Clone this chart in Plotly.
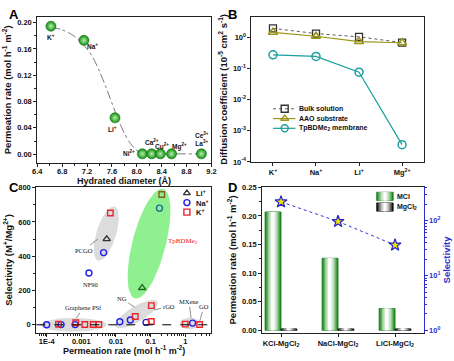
import math
import plotly.graph_objects as go

W, H = 454, 361

# ---------------- Panel A data ----------------
ions_a = ["K<sup>+</sup>", "Na<sup>+</sup>", "Li<sup>+</sup>", "Ni<sup>2+</sup>", "Ca<sup>2+</sup>",
          "Cu<sup>2+</sup>", "Mg<sup>2+</sup>", "Ce<sup>3+</sup><br>La<sup>3+</sup>"]
diam_a = [6.62, 7.15, 7.65, 8.09, 8.24, 8.38, 8.56, 9.04]
perm_a = [0.1945, 0.173, 0.0553, 0.0005, 0.0005, 0.0005, 0.0005, 0.0005]
fit_x = [6.62, 6.8, 7.0, 7.2, 7.3, 7.4, 7.5, 7.6, 7.7, 7.8, 7.9, 8.0, 8.09, 8.56, 9.04]
fit_y = [0.193, 0.189, 0.179, 0.160, 0.146, 0.126, 0.103, 0.078, 0.053, 0.032, 0.016, 0.006, 0.001, 0.0005, 0.0005]
lab_shift_a = [(0, -11), (9, -6), (-2, -11), (-13, 1), (0, 12), (2, 8), (8, 7), (1, 15)]

# ---------------- Panel B data ----------------
ions_b = ["K<sup>+</sup>", "Na<sup>+</sup>", "Li<sup>+</sup>", "Mg<sup>2+</sup>"]
bulk_b = [1.97, 1.34, 1.05, 0.69]
aao_b = [1.47, 1.10, 0.74, 0.68]
tp_b = [0.278, 0.246, 0.077, 0.00036]

# ---------------- Panel C data ----------------
li_x = [0.0054, 0.057]
li_y = [500, 215]
li_col = ["#333333", "#1d6b1d"]
na_x = [1e-4, 2.6e-4, 6.6e-4, 0.0044, 0.00166, 0.0129, 0.026, 0.074, 1.63, 0.18]
na_y = [0, 1, 1, 421, 302, 18, 28, 14, 10, 680]
na_col = ["#2222ee"] * 9 + ["#1f6f9a"]
k_x = [2.2e-4, 6.9e-4, 0.00126, 0.0022, 0.0032, 0.0069, 0.036, 0.105, 0.105, 1.0, 2.6, 0.21]
k_y = [3, 12, 2, 2, 2, 652, 48, 112, 19, 4, 2, 760]
k_col = ["#e8262b"] * 11 + ["#8a5a1e"]

# ---------------- Panel D data ----------------
pairs_d = ["KCl-MgCl<sub>2</sub>", "NaCl-MgCl<sub>2</sub>", "LiCl-MgCl<sub>2</sub>"]
mcl_d = [0.207, 0.126, 0.038]
mgcl2_d = [0.0025, 0.0025, 0.0025]
sel_d = [221, 97, 36]

FONT = "Arial, Liberation Sans, sans-serif"
SERIF = "Times New Roman, Liberation Serif, serif"


def dx(a, b):
    return [a / W, b / W]


def dy(t, b):
    return [1 - b / H, 1 - t / H]


fig = go.Figure()

# ---------- A ----------
fig.add_trace(go.Scatter(x=fit_x, y=fit_y, mode="lines", line=dict(color="#555", width=0.8, dash="dashdot", shape="spline", smoothing=0.8),
                         xaxis="x", yaxis="y", hoverinfo="skip"))
fig.add_trace(go.Scatter(x=diam_a, y=perm_a, mode="markers", xaxis="x", yaxis="y",
                         marker=dict(size=10, color="#12900f", line=dict(color="#0c6a0c", width=0.6),
                                     gradient=dict(type="radial", color="#b8f0b0"))))

# ---------- B ----------
fig.add_trace(go.Scatter(x=[0, 1, 2, 3], y=bulk_b, mode="lines+markers", xaxis="x2", yaxis="y2",
                         line=dict(color="#333", width=0.8, dash="dot"),
                         marker=dict(symbol="square-open", size=7, color="#333", line=dict(width=1.3))))
fig.add_trace(go.Scatter(x=[0, 1, 2, 3], y=aao_b, mode="lines+markers", xaxis="x2", yaxis="y2",
                         line=dict(color="#9a9417", width=1.2),
                         marker=dict(symbol="triangle-up-open", size=8, color="#9a9417", line=dict(width=1.5))))
fig.add_trace(go.Scatter(x=[0, 1, 2, 3], y=tp_b, mode="lines+markers", xaxis="x2", yaxis="y2",
                         line=dict(color="#1a9e9e", width=1.2),
                         marker=dict(symbol="circle-open", size=8, color="#1a9e9e", line=dict(width=1.5))))

# ---------- C ----------
CXR = [-4.30, 0.754]
CYR = [-45.5, 801.6]
CXPX = 179.0
CYPX = 149.0


def ellipse(clog, cy, a, b, ang, color):
    sx = CXPX / (CXR[1] - CXR[0])
    sy = CYPX / (CYR[1] - CYR[0])
    t = math.radians(ang)
    xs, ys = [], []
    for i in range(73):
        th = 2 * math.pi * i / 72
        u = a * math.cos(th)
        v = b * math.sin(th)
        px = u * math.cos(t) - v * math.sin(t)
        py = u * math.sin(t) + v * math.cos(t)
        xs.append(10 ** (clog + px / sx))
        ys.append(cy + py / sy)
    fig.add_trace(go.Scatter(x=xs, y=ys, mode="lines", fill="toself", fillcolor=color, line=dict(width=0),
                             xaxis="x3", yaxis="y3", hoverinfo="skip"))


ellipse(-3.23, 0, 34, 7, 0, "#dcdcdc")
ellipse(-2.28, 532, 29, 10, 73, "#dcdcdc")
ellipse(-1.045, 473, 58, 17, 75.6, "#8ff08f")
ellipse(-1.407, 62, 25, 8, 31, "#dcdcdc")
ellipse(0.133, 8, 10, 6, 0, "#dcdcdc")

fig.add_trace(go.Scatter(x=li_x, y=li_y, mode="markers", xaxis="x3", yaxis="y3",
                         marker=dict(symbol="triangle-up-open", size=6.5, color=li_col, line=dict(width=1.4))))
fig.add_trace(go.Scatter(x=na_x, y=na_y, mode="markers", xaxis="x3", yaxis="y3",
                         marker=dict(symbol="circle-open", size=6, color=na_col, line=dict(width=1.4))))
fig.add_trace(go.Scatter(x=k_x, y=k_y, mode="markers", xaxis="x3", yaxis="y3",
                         marker=dict(symbol="square-open", size=5.5, color=k_col, line=dict(width=1.4))))

# ---------- D ----------
BW = 0.28
layers = [(1.0, 0.0), (0.82, 0.3), (0.64, 0.55), (0.46, 0.75), (0.28, 0.9), (0.12, 1.0)]


def mix(c, t):
    return "rgb(%d,%d,%d)" % tuple(int(round(ci + (255 - ci) * t)) for ci in c)


for vals, base_off, col, edge in [(mcl_d, -BW, (30, 140, 30), "#1f7a1f"), (mgcl2_d, 0.0, (20, 20, 20), "#111")]:
    for k, (wf, t) in enumerate(layers):
        w = BW * wf
        fig.add_trace(go.Bar(x=[0, 1, 2], y=vals, xaxis="x4", yaxis="y4", width=w,
                             offset=base_off + (BW - w) / 2, marker=dict(color=mix(col, t),
                             line=dict(color=edge if k == 0 else mix(col, t), width=0.8 if k == 0 else 0)),
                             hoverinfo="skip"))

fig.add_trace(go.Scatter(x=[0, 1, 2], y=sel_d, mode="lines+markers", xaxis="x4", yaxis="y5",
                         line=dict(color="#3333dd", width=1, dash="dot"),
                         marker=dict(symbol="star", size=9, color="#f2e600", line=dict(color="#2222cc", width=1.2))))

# ---------- legend samples (overlay pixel axis) ----------
leg_b = [("Bulk solution", "#333", "dot", "square-open", 0.8),
         ("AAO substrate", "#9a9417", "solid", "triangle-up-open", 1.2),
         ("TpBDMe<sub>2</sub> membrane", "#1a9e9e", "solid", "circle-open", 1.2)]
annos = []
for i, (name, c, dash, sym, lw) in enumerate(leg_b):
    yy = 107.5 + 10 * i
    fig.add_trace(go.Scatter(x=[274, 297], y=[yy, yy], mode="lines", line=dict(color=c, width=lw, dash=dash),
                             xaxis="x6", yaxis="y6", hoverinfo="skip"))
    fig.add_trace(go.Scatter(x=[286], y=[yy], mode="markers", xaxis="x6", yaxis="y6",
                             marker=dict(symbol=sym, size=7, color=c, line=dict(width=1.4))))
    annos.append(dict(x=299, y=yy, xref="x6", yref="y6", text="<b>%s</b>" % name, showarrow=False,
                      xanchor="left", yanchor="middle", font=dict(size=7, family=FONT, color="#111")))

leg_c = [("Li<sup>+</sup>", "triangle-up-open", "#333"), ("Na<sup>+</sup>", "circle-open", "#2222ee"),
         ("K<sup>+</sup>", "square-open", "#e8262b")]
for i, (name, sym, c) in enumerate(leg_c):
    yy = 194 + 9.7 * i
    fig.add_trace(go.Scatter(x=[186], y=[yy], mode="markers", xaxis="x6", yaxis="y6",
                             marker=dict(symbol=sym, size=6, color=c, line=dict(width=1.4))))
    annos.append(dict(x=193, y=yy, xref="x6", yref="y6", text="<b>%s</b>" % name, showarrow=False,
                      xanchor="left", yanchor="middle", font=dict(size=7.5, family=FONT, color="#111")))

shapes = []
for i, (name, col, edge) in enumerate([("MCl", (30, 140, 30), "#1f7a1f"), ("MgCl<sub>2</sub>", (20, 20, 20), "#111")]):
    y0, y1 = 193 + 11 * i, 201.5 + 11 * i
    x0, x1 = 380, 397
    for k, (wf, t) in enumerate(layers):
        w = (x1 - x0) * wf
        cx = (x0 + x1) / 2
        shapes.append(dict(type="rect", xref="x6", yref="y6", x0=cx - w / 2, x1=cx + w / 2, y0=y0, y1=y1,
                           fillcolor=mix(col, t), line=dict(color=edge if k == 0 else mix(col, t), width=0.7 if k == 0 else 0)))
    annos.append(dict(x=399, y=(y0 + y1) / 2, xref="x6", yref="y6", text="<b>%s</b>" % name, showarrow=False,
                      xanchor="left", yanchor="middle", font=dict(size=7, family=FONT, color="#111")))

# ---------- annotations ----------
for xv, yv, t, (sx, sy) in zip(diam_a, perm_a, ions_a, lab_shift_a):
    annos.append(dict(x=xv, y=yv, xref="x", yref="y", text="<b>%s</b>" % t, showarrow=False,
                      xshift=sx, yshift=sy, font=dict(size=6.5, family=FONT, color="#111")))

c_labels = [
    ("PCGO", 0.0030, 500, -14, 11),
    ("Graphene PSf", 7.2e-4, 40, 7, -10),
    ("NG", 0.035, 102, -13, -9),
    ("rGO", 0.123, 85, 15, -4),
    ("MXene", 1.47, 40, -2, -16),
    ("GO", 2.63, 23, 4, -14),
]
for t, xv, yv, axp, ayp in c_labels:
    annos.append(dict(x=math.log10(xv), y=yv, xref="x3", yref="y3", text=t, showarrow=True, arrowhead=0,
                      arrowwidth=0.6, arrowcolor="#444", ax=axp, ay=ayp, standoff=0, startstandoff=0,
                      font=dict(size=6.5, family=SERIF, color="#111")))
annos.append(dict(x=math.log10(0.0018), y=233, xref="x3", yref="y3", text="NF90", showarrow=False,
                  font=dict(size=6.5, family=SERIF, color="#111")))
annos.append(dict(x=math.log10(0.285), y=489, xref="x3", yref="y3", text="TpBDMe<sub>2</sub>", showarrow=False,
                  xanchor="left", font=dict(size=7, family=SERIF, color="#ee1111")))

for lab, px, py in [("A", 2, 1), ("B", 226, 1), ("C", 2, 178), ("D", 226, 178)]:
    annos.append(dict(x=px / W, y=1 - py / H, xref="paper", yref="paper", text="<b>%s</b>" % lab, showarrow=False,
                      xanchor="left", yanchor="top", font=dict(size=13, family=FONT, color="#000")))

# x-axis titles placed under the tick labels
annos.append(dict(x=122 / W, y=1 - 174 / H, xref="paper", yref="paper", text="<b>Hydrated diameter (Å)</b>",
                  showarrow=False, xanchor="center", yanchor="top", font=dict(size=9, family=FONT, color="#111")))
annos.append(dict(x=122 / W, y=1 - 347 / H, xref="paper", yref="paper",
                  text="<b>Permeation rate (mol h<sup>-1</sup> m<sup>-2</sup>)</b>",
                  showarrow=False, xanchor="center", yanchor="top", font=dict(size=9, family=FONT, color="#111")))

shapes.append(dict(type="line", xref="x3 domain", yref="y3", x0=0, x1=1, y0=0, y1=0,
                   line=dict(color="#000", width=1, dash="dash")))

tickf = dict(size=7.5, family=FONT, color="#111", weight="bold")
titf = dict(size=9.5, family=FONT, color="#111", weight="bold")
common = dict(showline=True, linecolor="#222", linewidth=1, ticks="outside", ticklen=3, tickwidth=1,
              tickcolor="#222", showgrid=False, zeroline=False, tickfont=tickf, mirror=True)

sup_log = lambda e: "10<sup>%d</sup>" % e

fig.update_layout(
    width=W, height=H, margin=dict(l=0, r=0, t=0, b=0), showlegend=False,
    paper_bgcolor="white", plot_bgcolor="rgba(0,0,0,0)", barmode="overlay",
    xaxis=dict(domain=dx(33, 211), range=[6.4, 9.2], tick0=6.4, dtick=0.4, tickformat=".1f", ticklabelstandoff=-2,
               minor=dict(dtick=0.2, ticks="outside", ticklen=2, tickcolor="#222"), anchor="y", **common),
    yaxis=dict(domain=dy(13, 163), range=[-0.0133, 0.209], tick0=0, dtick=0.04, tickformat=".2f",
               minor=dict(dtick=0.02, ticks="outside", ticklen=2, tickcolor="#222"),
               title=dict(text="Permeation rate (mol h<sup>-1</sup> m<sup>-2</sup>)", font=titf, standoff=3), anchor="x", **common),
    xaxis2=dict(domain=dx(252, 428), range=[-0.5, 3.5], tickvals=[0, 1, 2, 3], ticktext=ions_b, anchor="y2", **common),
    yaxis2=dict(domain=dy(13, 162), type="log", range=[-4, 0.67], tickvals=[1e-4, 1e-3, 1e-2, 1e-1, 1],
                ticktext=[sup_log(e) for e in [-4, -3, -2, -1, 0]], anchor="x2",
                title=dict(text="Diffusion coefficient (10<sup>-5</sup> cm<sup>2</sup> s<sup>-1</sup>)", font=titf, standoff=3), **common),
    xaxis3=dict(domain=dx(32, 211), type="log", range=CXR, tickvals=[1e-4, 1e-3, 1e-2, 1e-1, 1],
                ticktext=["1E-4", "0.001", "0.01", "0.1", "1"], anchor="y3", ticklabelstandoff=-2,
                minor=dict(ticks="outside", ticklen=2, tickcolor="#222", dtick="D1"), **common),
    yaxis3=dict(domain=dy(188, 337), range=CYR, tick0=0, dtick=200, anchor="x3",
                minor=dict(dtick=100, ticks="outside", ticklen=2, tickcolor="#222"),
                title=dict(text="Selectivity (M<sup>+</sup>/Mg<sup>2+</sup>)", font=titf, standoff=3), **common),
    xaxis4=dict(domain=dx(263, 428), range=[-0.33, 2.5], tickvals=[0, 1, 2], ticktext=pairs_d, anchor="y4", **common),
    yaxis4=dict(domain=dy(188, 337), range=[-0.004, 0.25], tick0=0, dtick=0.05, tickformat=".2f", anchor="x4",
                minor=dict(dtick=0.025, ticks="outside", ticklen=2, tickcolor="#222"),
                title=dict(text="Permeation rate (mol h<sup>-1</sup> m<sup>-2</sup>)", font=titf, standoff=3),
                **{k: v for k, v in common.items() if k != "mirror"}),
    yaxis5=dict(overlaying="y4", side="right", anchor="x4", type="log", range=[-0.04, 2.61],
                tickvals=[1, 10, 100], ticktext=[sup_log(e) for e in [0, 1, 2]],
                showline=True, linecolor="#2f2fd0", linewidth=1, ticks="outside", ticklen=3, tickcolor="#2f2fd0",
                minor=dict(ticks="outside", ticklen=2, tickcolor="#2f2fd0", dtick="D1"),
                showgrid=False, zeroline=False, tickfont=dict(size=7.5, family=FONT, color="#2f2fd0", weight="bold"),
                title=dict(text="Selectivity", font=dict(size=9.5, family=FONT, color="#2f2fd0", weight="bold"), standoff=3)),
    xaxis6=dict(domain=[0, 1], range=[0, W], visible=False, anchor="y6", fixedrange=True),
    yaxis6=dict(domain=[0, 1], range=[H, 0], visible=False, anchor="x6", fixedrange=True),
    annotations=annos, shapes=shapes,
)

fig.write_html("out.html", config={"displayModeBar": False},
               post_script="document.body.style.margin='0px';document.body.style.overflow='hidden';")
